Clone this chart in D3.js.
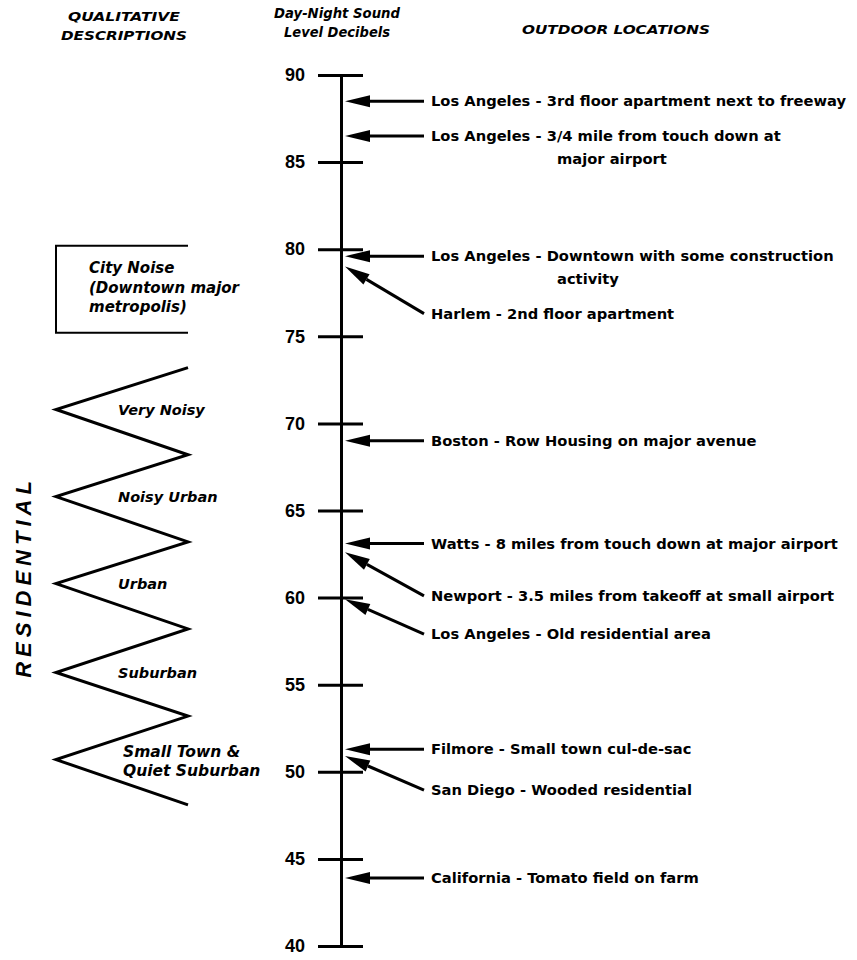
<!DOCTYPE html>
<html>
<head>
<meta charset="utf-8">
<script src="https://cdn.jsdelivr.net/npm/d3@7"></script>
<style>
  body { margin: 0; background: #fff; }
  text { font-family: "DejaVu Sans", "Liberation Sans", Arial, sans-serif; fill: #000; }
</style>
</head>
<body>
<div id="chart"></div>
<script>
// decibel scale
var tickValues = [90, 85, 80, 75, 70, 65, 60, 55, 50, 45, 40];

// outdoor locations: arrow tip (dB) and where the label sits (dB)
var locPlaces = ["Los Angeles", "Los Angeles", "Los Angeles", "Harlem", "Boston", "Watts",
    "Newport", "Los Angeles", "Filmore", "San Diego", "California"];
var locDescs = [
    ["3rd floor apartment next to freeway"],
    ["3/4 mile from touch down at", "major airport"],
    ["Downtown with some construction", "activity"],
    ["2nd floor apartment"],
    ["Row Housing on major avenue"],
    ["8 miles from touch down at major airport"],
    ["3.5 miles from takeoff at small airport"],
    ["Old residential area"],
    ["Small town cul-de-sac"],
    ["Wooded residential"],
    ["Tomato field on farm"]
];
var locDb = [88.5, 86.5, 79.6, 79.0, 69.0, 63.1, 62.6, 59.9, 51.3, 50.9, 43.9];
var locLabelDb = [88.5, 86.5, 79.6, 76.3, 69.0, 63.1, 60.1, 57.9, 51.3, 48.95, 43.9];

// qualitative descriptions
var zigzagDb = [73.2, 70.8, 68.2, 65.8, 63.2, 60.8, 58.2, 55.7, 53.2, 50.7, 48.1];
var residentialNames = [["Very Noisy"], ["Noisy Urban"], ["Urban"], ["Suburban"], ["Small Town &", "Quiet Suburban"]];
var residentialDb = [70.8, 65.8, 60.8, 55.7, 50.6];
var cityNoiseDb = [80.2, 75.2];
var cityNoiseText = ["City Noise", "(Downtown major", "metropolis)"];

function drawChart() {
    "use strict";
    var width = 857, height = 960;
    var axisX = 341;

    var svg = d3.select("#chart")
        .append("svg")
        .attr("width", width)
        .attr("height", height);

    var y = d3.scaleLinear().domain([40, 90]).range([946, 75]);

    // headers
    var headers = [
        {lines: ["QUALITATIVE", "DESCRIPTIONS"], x: 124, y: 17, size: 12, len: [112, 126]},
        {lines: ["Day-Night Sound", "Level Decibels"], x: 337, y: 13, size: 14, len: [126, 106]},
        {lines: ["OUTDOOR LOCATIONS"], x: 616, y: 30, size: 12, len: [188]}
    ];
    headers.forEach(function (h) {
        h.lines.forEach(function (l, i) {
            svg.append("text")
                .attr("x", h.x)
                .attr("y", h.y + i * 19)
                .attr("dy", "0.35em")
                .attr("text-anchor", "middle")
                .attr("textLength", h.len[i])
                .attr("lengthAdjust", "spacingAndGlyphs")
                .style("font-size", h.size + "px")
                .style("font-weight", "bold")
                .style("font-style", "italic")
                .text(l);
        });
    });

    // axis
    var axis = d3.axisLeft(y)
        .tickValues(tickValues)
        .tickSize(23)
        .tickSizeOuter(0)
        .tickPadding(13)
        .tickFormat(d3.format("d"));

    var g = svg.append("g")
        .attr("transform", "translate(" + axisX + ",0)")
        .call(axis);
    g.select(".domain").attr("stroke-width", 3);
    g.selectAll(".tick line")
        .attr("x1", 22)
        .attr("stroke-width", 3);
    g.selectAll(".tick text")
        .style("font-family", "'Liberation Sans', Arial, sans-serif")
        .style("font-size", "18px")
        .style("font-weight", "bold")
        .attr("fill", "#000");

    // arrows to the locations
    var tipX = axisX + 4, tailX = 424, textX = 431;
    locPlaces.forEach(function (place, i) {
        var x1 = tailX, y1 = y(locLabelDb[i]);
        var x2 = tipX, y2 = y(locDb[i]);
        var dx = x2 - x1, dy = y2 - y1;
        var len = Math.sqrt(dx * dx + dy * dy);
        var ux = dx / len, uy = dy / len;
        var headLen = 25, headW = 6;
        var bx = x2 - ux * headLen, by = y2 - uy * headLen;

        svg.append("line")
            .attr("x1", x1).attr("y1", y1)
            .attr("x2", bx).attr("y2", by)
            .attr("stroke", "#000")
            .attr("stroke-width", 3);
        svg.append("path")
            .attr("d", "M" + x2 + "," + y2 +
                "L" + (bx - uy * headW) + "," + (by + ux * headW) +
                "L" + (bx + uy * headW) + "," + (by - ux * headW) + "Z")
            .attr("fill", "#000");

        locDescs[i].forEach(function (d, j) {
            svg.append("text")
                .attr("x", j === 0 ? textX : 557)
                .attr("y", y1 + j * 23)
                .attr("dy", "0.35em")
                .style("font-size", "14.7px")
                .style("font-weight", "bold")
                .text(j === 0 ? place + " - " + d : d);
        });
    });

    // city noise box (open on the right)
    var leftX = 56, rightX = 188;
    svg.append("path")
        .attr("d", "M" + rightX + "," + y(cityNoiseDb[0]) + "H" + leftX +
            "V" + y(cityNoiseDb[1]) + "H" + rightX)
        .attr("fill", "none")
        .attr("stroke", "#000")
        .attr("stroke-width", 2);
    cityNoiseText.forEach(function (t, i) {
        svg.append("text")
            .attr("x", 89)
            .attr("y", 268 + i * 19.5)
            .attr("dy", "0.35em")
            .style("font-size", "15px")
            .style("font-weight", "bold")
            .style("font-style", "italic")
            .text(t);
    });

    // residential zigzag
    var zig = d3.line()
        .x(function (d, i) { return i % 2 === 0 ? rightX : leftX; })
        .y(function (d) { return y(d); });
    svg.append("path")
        .attr("d", zig(zigzagDb))
        .attr("fill", "none")
        .attr("stroke", "#000")
        .attr("stroke-width", 3)
        .attr("stroke-linejoin", "miter");

    residentialNames.forEach(function (lines, i) {
        var cy = y(residentialDb[i]);
        lines.forEach(function (l, j) {
            svg.append("text")
                .attr("x", lines.length > 1 ? 123 : 118)
                .attr("y", cy + (j - (lines.length - 1) / 2) * 19)
                .attr("dy", "0.35em")
                .style("font-size", lines.length > 1 ? "15.5px" : "14.5px")
                .style("font-weight", "bold")
                .style("font-style", "italic")
                .text(l);
        });
    });

    svg.append("text")
        .attr("transform", "translate(31,577) rotate(-90)")
        .attr("text-anchor", "middle")
        .style("font-family", "'Liberation Sans', Arial, sans-serif")
        .style("font-size", "22px")
        .style("font-weight", "bold")
        .style("font-style", "italic")
        .style("letter-spacing", "5px")
        .text("RESIDENTIAL");
}

drawChart();
</script>
</body>
</html>
